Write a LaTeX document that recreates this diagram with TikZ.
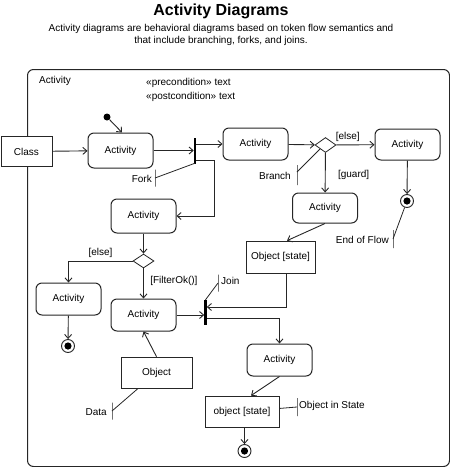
\documentclass[tikz,border=0pt]{standalone}
\usepackage{fontspec}
\setmainfont{Liberation Sans}
\usepackage{xcolor}
\usetikzlibrary{positioning,arrows.meta,shapes.geometric}
\tikzset{
	actnode/.style={rectangle, rounded corners=6pt, draw=black!85, fill=white, line width=1pt, minimum width=65pt, minimum height=32pt, inner sep=0pt},
	objnode/.style={rectangle, draw=black!85, fill=white, line width=0.75pt, minimum height=31pt, inner sep=0pt},
	decnode/.style={diamond, draw=black!85, fill=white, line width=0.8pt, minimum width=21pt, minimum height=15pt, inner sep=0pt},
	barnode/.style={rectangle, fill=black, minimum width=2.2pt, minimum height=26pt, inner sep=0pt},
	startnode/.style={circle, fill=black, minimum size=7pt, inner sep=0pt},
	endnode/.style={circle, draw=black!85, fill=white, line width=0.9pt, minimum size=13pt, inner sep=0pt,
		path picture={\fill[black] (path picture bounding box.center) circle (3.6pt);}},
	ticknode/.style={rectangle, draw=black!85, line width=0.8pt, minimum width=0pt, minimum height=17pt, inner sep=0pt},
	flow/.style={-{Straight Barb[length=4pt,width=7pt]}, draw=black!85, line width=0.9pt},
	noteline/.style={draw=black!85, line width=0.8pt}
}

\begin{document}
\begin{tikzpicture}[x=1pt, y=-1pt, font=\fontsize{10}{12}\selectfont]
	\useasboundingbox (0,0) rectangle (450,467);

	% header
	\node[font=\bfseries\fontsize{16}{19}\selectfont] at (221,11) (title) {Activity Diagrams};
	\node[align=center, font=\fontsize{10}{11.2}\selectfont] at (221,35) (subtitle) {Activity diagrams are behavioral diagrams based on token flow semantics and\\that include branching, forks, and joins.};

	% frame
	\node[rectangle, rounded corners=6pt, draw=black!85, line width=1pt, minimum width=422pt, minimum height=397pt, anchor=north west, inner sep=0pt] at (27,69) (frame) {};
	\node[anchor=west, inner sep=0pt] at (39,81) (framelabel) {Activity};
	\node[anchor=west, inner sep=0pt] at (146,83) (pre) {«precondition» text};
	\node[anchor=west, inner sep=0pt] at (146,97) (post) {«postcondition» text};

	% nodes
	\node[objnode, minimum width=51pt, minimum height=30pt] at (26.5,151.5) (class) {Class};
	\node[startnode] at (107,117) (start) {};
	\node[actnode, minimum height=35pt] at (120.5,150.5) (act1) {Activity};
	\node[barnode] at (195,151) (fork) {};
	\node[actnode] at (255.5,144) (act2) {Activity};
	\node[decnode] at (325.5,145) (dec1) {};
	\node[actnode, minimum height=31pt] at (407.5,144.5) (act4) {Activity};
	\node[endnode] at (407,201) (end1) {};
	\node[actnode, minimum height=30pt] at (325,208) (act5) {Activity};
	\node[objnode, minimum width=69pt, minimum height=32pt] at (280.5,257) (obj1) {Object [state]};
	\node[actnode, minimum height=34pt] at (143.5,216) (act3) {Activity};
	\node[decnode, minimum height=14pt] at (143.5,261) (dec2) {};
	\node[actnode] at (68.5,299) (act8) {Activity};
	\node[endnode] at (68,346) (end2) {};
	\node[actnode] at (143.5,315) (act6) {Activity};
	\node[objnode, minimum width=71pt] at (156.5,372.5) (obj2) {Object};
	\node[barnode, minimum height=25pt] at (205.5,312.5) (join) {};
	\node[actnode] at (279.5,360) (act7) {Activity};
	\node[objnode, minimum width=74pt] at (242,411.5) (obj3) {object [state]};
	\node[endnode] at (244.5,451) (end3) {};

	% notes
	\node[anchor=east, inner sep=0pt] at (152,179) (forktext) {Fork};
	\node[ticknode] at (155,178) (forktick) {};
	\node[anchor=east, inner sep=0pt] at (291,176) (branchtext) {Branch};
	\node[ticknode, minimum height=20pt] at (297,175) (branchtick) {};
	\node[anchor=east, inner sep=0pt] at (389,240) (eoftext) {End of Flow};
	\node[ticknode, minimum height=18pt] at (393,239) (eoftick) {};
	\node[anchor=west, inner sep=0pt] at (221,281) (jointext) {Join};
	\node[ticknode] at (218,283) (jointick) {};
	\node[anchor=east, inner sep=0pt] at (107,412) (datatext) {Data};
	\node[ticknode] at (112,411) (datatick) {};
	\node[anchor=west, inner sep=0pt] at (299,406) (oistext) {Object in State};
	\node[ticknode, minimum height=18pt] at (297,407) (oistick) {};

	%Lines
	\draw[flow] (class) -- (act1);
	\draw[flow] (start) -- ([xshift=1.5pt]act1.north);
	\draw[flow] (act1.east) -- (act1.east -| fork.west);
	\draw[flow] (fork.east |- act2) -- (act2);
	\draw[flow] ([yshift=4pt]fork.south east) -| ++(18,0) |- (act3.east);
	\draw[flow] (act2) -- (dec1);
	\draw[flow] (dec1) -- node[above, pos=.3] {[else]} (act4);
	\draw[flow] (dec1) -- node[right=9pt, pos=.55] {[guard]} (act5);
	\draw[flow] (act4) -- (end1);
	\draw[flow] (act5.south) -- ([xshift=6.5pt]obj1.north);
	\draw[flow] ([xshift=5.5pt]obj1.south) |- ([yshift=5.5pt]join.east);
	\draw[flow] (act3) -- (dec2);
	\draw[flow] (dec2.west) -| node[above, pos=.25] {[else]} (act8.north);
	\draw[flow] (dec2) -- node[right=3pt, pos=.4] {[FilterOk()]} (act6);
	\draw[flow] (act8) -- (end2);
	\draw[flow] (act6.east) -- (act6.east -| join.west);
	\draw[flow] (obj2.north) -- (act6.south);
	\draw[flow] ([yshift=-6pt]join.east) -| (act7.north);
	\draw[flow] (act7.south) -- ([xshift=9pt]obj3.north);
	\draw[flow] (obj3.south -| end3) -- (end3);

	\draw[noteline] (forktick.center) -- ([yshift=1pt]fork.south);
	\draw[noteline] ([yshift=3pt]branchtick.center) -- (dec1.south west);
	\draw[noteline] (eoftick.center) -- (end1);
	\draw[noteline] (jointick.center) -- (join.north);
	\draw[noteline] (datatick.center) -- (obj2);
	\draw[noteline] (oistick.center) -- (obj3);
\end{tikzpicture}
\end{document}
